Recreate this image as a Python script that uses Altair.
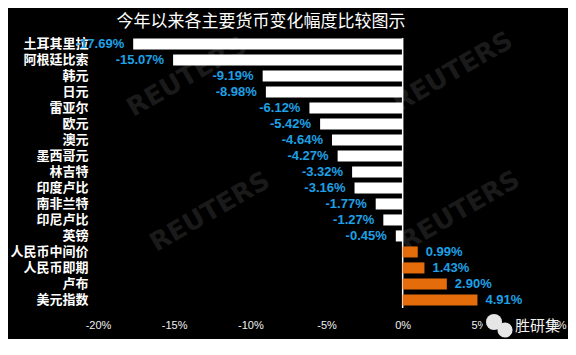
import altair as alt
import pandas as pd

categories = ["土耳其里拉", "阿根廷比索", "韩元", "日元", "雷亚尔", "欧元", "澳元", "墨西哥元",
              "林吉特", "印度卢比", "南非兰特", "印尼卢比", "英镑", "人民币中间价", "人民币即期",
              "卢布", "美元指数"]
values = [-17.69, -15.07, -9.19, -8.98, -6.12, -5.42, -4.64, -4.27,
          -3.32, -3.16, -1.77, -1.27, -0.45, 0.99, 1.43, 2.90, 4.91]
x_ticks = [-20, -15, -10, -5, 0, 5, 10]
title_text = "今年以来各主要货币变化幅度比较图示"

df = pd.DataFrame({"cat": categories, "val": values})
df["label"] = [f"{v:.2f}%" for v in values]

W, H = 457, 272
xscale = alt.Scale(domain=[-20, 10], nice=False, zero=False)
yscale = alt.Scale(paddingInner=0.31, paddingOuter=0.16)

base = alt.Chart(df)

bars = base.mark_bar().encode(
    x=alt.X("val:Q", scale=xscale,
            axis=alt.Axis(values=x_ticks, labelExpr="datum.value + '%'", title=None,
                          domain=False, ticks=False, grid=False, labelColor="#f0f0f0",
                          labelFont="Liberation Sans", labelFontSize=11, labelPadding=11,
                          labelFlush=False, labelOverlap=False)),
    x2=alt.datum(0),
    y=alt.Y("cat:N", sort=categories, scale=yscale,
            axis=alt.Axis(title=None, domain=False, ticks=False, labelColor="white",
                          labelFont="Noto Sans CJK SC", labelFontWeight="bold",
                          labelFontSize=13, labelPadding=10)),
    color=alt.condition("datum.val < 0", alt.value("white"), alt.value("#e46c0a")),
)

neg_labels = base.transform_filter("datum.val < 0").mark_text(
    align="right", dx=-9, font="Liberation Sans", fontSize=13, fontWeight="bold",
    color="#1ea0e6").encode(
    x=alt.X("val:Q", scale=xscale), y=alt.Y("cat:N", sort=categories, scale=yscale),
    text="label:N")

pos_labels = base.transform_filter("datum.val >= 0").mark_text(
    align="left", dx=8, font="Liberation Sans", fontSize=13, fontWeight="bold",
    color="#1ea0e6").encode(
    x=alt.X("val:Q", scale=xscale), y=alt.Y("cat:N", sort=categories, scale=yscale),
    text="label:N")

zero_line = alt.Chart(pd.DataFrame({"z": [0]})).mark_rule(color="white", strokeWidth=1.5).encode(
    x=alt.X("z:Q", scale=xscale), y=alt.value(2), y2=alt.value(H))

def wm(px, py):
    return alt.Chart(pd.DataFrame({"t": ["REUTERS"]})).mark_text(
        angle=330, fontSize=26, fontWeight="bold", font="DejaVu Sans", color="#1a1a1a"
    ).encode(x=alt.value(px), y=alt.value(py), text="t:N")

watermarks = [wm(89, 41), wm(355, 36), wm(112, 176), wm(362, 175)]

title = alt.Chart(pd.DataFrame({"t": [title_text]})).mark_text(
    align="center", baseline="middle", fontSize=17, font="Noto Sans CJK SC",
    fontWeight="normal", color="white"
).encode(x=alt.value(163), y=alt.value(-14), text="t:N")

brand_bg = alt.Chart(pd.DataFrame({"a": [1]})).mark_rect(color="black").encode(
    x=alt.value(385), x2=alt.value(455), y=alt.value(277), y2=alt.value(304))
bubble1 = alt.Chart(pd.DataFrame({"a": [1]})).mark_point(
    filled=True, color="#e6e6e6", size=260, opacity=1).encode(x=alt.value(396), y=alt.value(286))
bubble2 = alt.Chart(pd.DataFrame({"a": [1]})).mark_point(
    filled=True, color="#e6e6e6", size=230, opacity=1).encode(x=alt.value(407), y=alt.value(294))
brand = alt.Chart(pd.DataFrame({"t": ["胜研集"]})).mark_text(
    align="left", baseline="middle", fontSize=15, font="Noto Sans CJK SC", color="#f0f0f0"
).encode(x=alt.value(417), y=alt.value(290), text="t:N")

chart = alt.layer(*watermarks, zero_line, bars, neg_labels, pos_labels,
                  brand_bg, bubble1, bubble2, brand, title).properties(
    width=W, height=H,
    background="black",
    padding={"left": 90, "top": 28, "right": 13, "bottom": 31},
    autosize=alt.AutoSizeParams(type="none"),
).configure_view(stroke=None)

chart.save("out.html", embed_options={"renderer": "svg", "actions": False})
